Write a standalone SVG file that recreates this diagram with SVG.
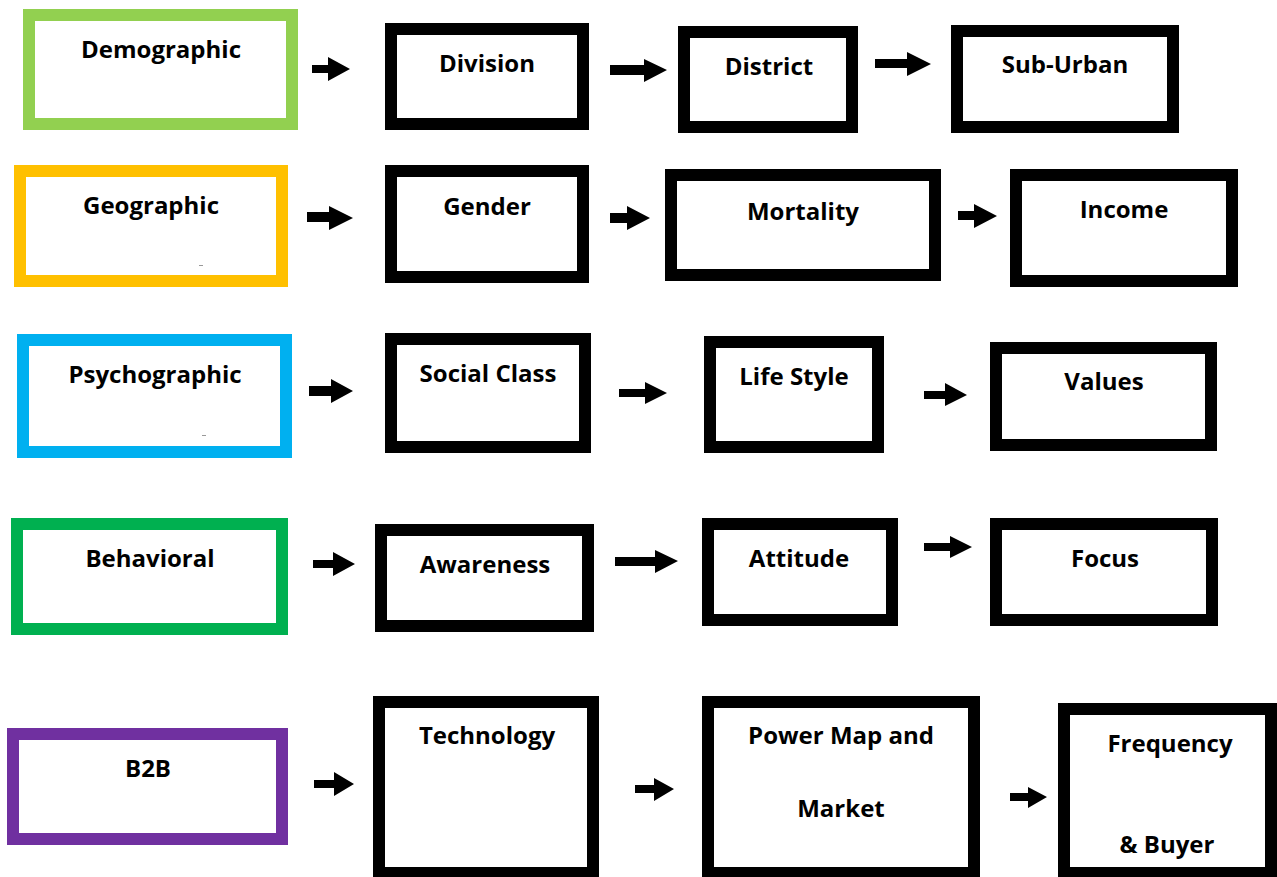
<svg xmlns="http://www.w3.org/2000/svg" width="1277" height="877" viewBox="0 0 1277 877">
<style>
.box{fill:#fff;stroke-width:12}
.blk{stroke:#000}
.lbl{font-family:"Open Sans","Noto Sans","Liberation Sans",sans-serif;font-weight:700;font-size:24px;fill:#000;text-anchor:middle}
.arrow{fill:#000}
</style>
<rect width="1277" height="877" fill="#fff"/>
<g id="demographic"><rect class="box" x="29" y="15" width="263" height="109" stroke="#92D050"/><text class="lbl" x="161" y="58">Demographic</text></g>
<g id="division"><rect class="box blk" x="391" y="29" width="192" height="95"/><text class="lbl" x="487" y="72">Division</text></g>
<g id="district"><rect class="box blk" x="684" y="32" width="168" height="95"/><text class="lbl" x="769" y="75">District</text></g>
<g id="sub-urban"><rect class="box blk" x="957" y="31" width="216" height="96"/><text class="lbl" x="1065" y="73">Sub-Urban</text></g>

<g id="geographic"><rect class="box" x="20" y="171" width="262" height="110" stroke="#FFC000"/><text class="lbl" x="151" y="214">Geographic</text><rect x="199" y="265" width="4" height="1" fill="#999"/></g>
<g id="gender"><rect class="box blk" x="391" y="171" width="192" height="106"/><text class="lbl" x="487" y="215">Gender</text></g>
<g id="mortality"><rect class="box blk" x="671" y="175" width="264" height="100"/><text class="lbl" x="803" y="220">Mortality</text></g>
<g id="income"><rect class="box blk" x="1016" y="175" width="216" height="106"/><text class="lbl" x="1124" y="218">Income</text></g>

<g id="psychographic"><rect class="box" x="23" y="340" width="263" height="112" stroke="#00B0F0"/><text class="lbl" x="155" y="383">Psychographic</text><rect x="202" y="435" width="4" height="1" fill="#999"/></g>
<g id="social-class"><rect class="box blk" x="391" y="339" width="194" height="108"/><text class="lbl" x="488" y="382">Social Class</text></g>
<g id="life-style"><rect class="box blk" x="710" y="342" width="168" height="105"/><text class="lbl" x="794" y="385">Life Style</text></g>
<g id="values"><rect class="box blk" x="996" y="348" width="215" height="97"/><text class="lbl" x="1104" y="390">Values</text></g>

<g id="behavioral"><rect class="box" x="17" y="524" width="265" height="105" stroke="#00B050"/><text class="lbl" x="150" y="567">Behavioral</text></g>
<g id="awareness"><rect class="box blk" x="381" y="530" width="207" height="96"/><text class="lbl" x="485" y="573">Awareness</text></g>
<g id="attitude"><rect class="box blk" x="708" y="524" width="184" height="96"/><text class="lbl" x="799" y="567">Attitude</text></g>
<g id="focus"><rect class="box blk" x="996" y="524" width="216" height="96"/><text class="lbl" x="1105" y="567">Focus</text></g>

<g id="b2b"><rect class="box" x="13" y="734" width="269" height="105" stroke="#7030A0"/><text class="lbl" x="148" y="777">B2B</text></g>
<g id="technology"><rect class="box blk" x="379" y="702" width="214" height="171"/><text class="lbl" x="487" y="744">Technology</text></g>
<g id="power-map"><rect class="box blk" x="708" y="702" width="266" height="171"/><text class="lbl" x="841" y="744">Power Map and</text><text class="lbl" x="841" y="817">Market</text></g>
<g id="frequency"><rect class="box blk" x="1064" y="709" width="207" height="164"/><text class="lbl" x="1170" y="752">Frequency</text><text class="lbl" x="1167" y="853">&amp; Buyer</text></g>

<g id="connectors">
<path class="arrow" d="M312 65 H328 V57 L350 69 L328 81 V73 H312 Z"/>
<path class="arrow" d="M610 65 H644 V59 L667 70 L644 82 V75 H610 Z"/>
<path class="arrow" d="M875 59 H907 V52 L931 64 L907 76 V68 H875 Z"/>
<path class="arrow" d="M307 212 H329 V206 L353 218 L329 230 V222 H307 Z"/>
<path class="arrow" d="M610 213 H627 V206 L650 218 L627 230 V223 H610 Z"/>
<path class="arrow" d="M958 211 H974 V204 L997 216 L974 228 V220 H958 Z"/>
<path class="arrow" d="M309 386 H331 V379 L353 391 L331 403 V396 H309 Z"/>
<path class="arrow" d="M619 389 H645 V382 L667 393 L645 404 V397 H619 Z"/>
<path class="arrow" d="M924 391 H945 V383 L967 395 L945 406 V399 H924 Z"/>
<path class="arrow" d="M313 560 H333 V552 L355 564 L333 576 V568 H313 Z"/>
<path class="arrow" d="M615 557 H655 V550 L678 561 L655 573 V566 H615 Z"/>
<path class="arrow" d="M924 543 H950 V536 L972 547 L950 558 V551 H924 Z"/>
<path class="arrow" d="M314 780 H334 V772 L354 784 L334 796 V788 H314 Z"/>
<path class="arrow" d="M635 785 H654 V778 L674 789 L654 801 V793 H635 Z"/>
<path class="arrow" d="M1010 793 H1028 V787 L1047 797 L1028 808 V801 H1010 Z"/>
</g>
</svg>
